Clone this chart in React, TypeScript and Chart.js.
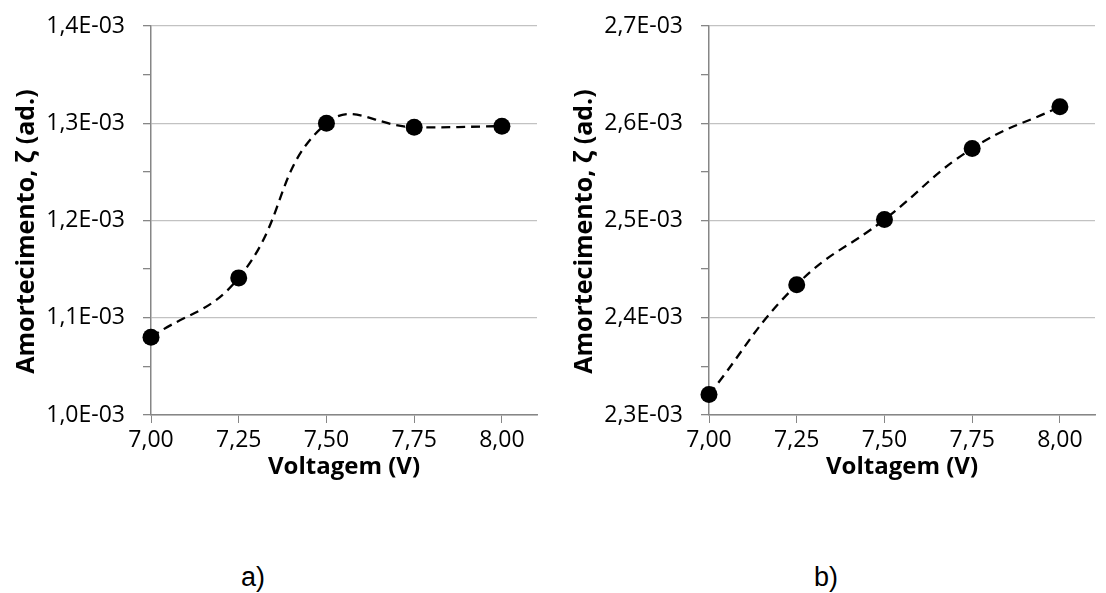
import React, { useEffect, useRef } from 'react';
import { Chart, registerables } from 'chart.js';

Chart.register(...registerables);

// ---- data ----
const voltages = [7.0, 7.25, 7.5, 7.75, 8.0];
const zetaA = [1.08e-3, 1.141e-3, 1.3e-3, 1.296e-3, 1.297e-3];
const zetaB = [2.321e-3, 2.434e-3, 2.501e-3, 2.574e-3, 2.617e-3];
const yRangeA = [1.0e-3, 1.4e-3];
const yRangeB = [2.3e-3, 2.7e-3];
const xRange = [7.0, 8.1];
const xStep = 0.25;
const yMinorStep = 0.05e-3;
const xTitle = 'Voltagem (V)';
const yTitle = 'Amortecimento, ζ (ad.)';
const panelLabels = ['a)', 'b)'];

const AXIS = '#868686';
const GRID = '#c2c2c2';
const FONT = 'Open Sans';

const isMajor = (v: number) => Math.round(v / yMinorStep) % 2 === 0;

// y-axis title drawn slightly below the plot centre, as in the original figure
const yTitlePlugin = {
  id: 'yTitlePlugin',
  afterDraw(chart: any) {
    const { ctx, chartArea } = chart;
    ctx.save();
    ctx.translate(27, (chartArea.top + chartArea.bottom) / 2 + 11);
    ctx.rotate(-Math.PI / 2);
    ctx.textAlign = 'center';
    ctx.textBaseline = 'middle';
    ctx.fillStyle = '#000';
    ctx.font = `bold 25px "${FONT}"`;
    ctx.fillText(yTitle, 0, 0);
    ctx.restore();
  },
};

function Panel({ ys, yRange }: { ys: number[]; yRange: number[] }) {
  const ref = useRef<HTMLCanvasElement>(null);
  useEffect(() => {
    const chart = new Chart(ref.current as HTMLCanvasElement, {
      type: 'line',
      data: {
        datasets: [
          {
            data: voltages.map((x, i) => ({ x, y: ys[i] })),
            borderColor: '#000',
            borderWidth: 2.3,
            borderDash: [9, 6],
            tension: 0.45,
            pointRadius: 8.5,
            pointHoverRadius: 8.5,
            pointBackgroundColor: '#000',
            pointBorderWidth: 0,
            fill: false,
            clip: false as any,
          },
        ],
      },
      options: {
        animation: false,
        responsive: false,
        maintainAspectRatio: false,
        events: [],
        layout: { padding: { left: 0, top: 26, right: 13, bottom: 0 } },
        plugins: { legend: { display: false }, tooltip: { enabled: false } },
        scales: {
          x: {
            type: 'linear',
            min: xRange[0],
            max: xRange[1],
            afterFit: (s: any) => {
              s.height = 85;
            },
            border: { color: AXIS, width: 1.5 },
            grid: { drawOnChartArea: false, drawTicks: true, tickLength: 8, tickColor: AXIS, color: AXIS },
            ticks: {
              stepSize: xStep,
              includeBounds: false,
              autoSkip: false,
              maxRotation: 0,
              padding: 4,
              color: '#000',
              font: { family: FONT, size: 23 },
              callback: (v: any) => Number(v).toFixed(2).replace('.', ','),
            },
            title: {
              display: true,
              text: xTitle,
              color: '#000',
              font: { family: FONT, size: 24, weight: 'bold' },
              padding: { top: 0, bottom: 18 },
            },
          },
          y: {
            type: 'linear',
            min: yRange[0],
            max: yRange[1],
            afterFit: (s: any) => {
              s.width = 151;
              s.paddingTop = 0;
              s.paddingBottom = 0;
            },
            border: { color: AXIS, width: 1.5 },
            grid: {
              color: (ctx: any) => (ctx.tick && isMajor(ctx.tick.value) ? GRID : 'rgba(0,0,0,0)'),
              tickColor: AXIS,
              tickLength: 8,
              lineWidth: 1.3,
            },
            ticks: {
              stepSize: yMinorStep,
              autoSkip: false,
              padding: 18,
              color: '#000',
              font: { family: FONT, size: 23 },
              callback: (v: any) =>
                isMajor(Number(v)) ? (Number(v) * 1000).toFixed(1).replace('.', ',') + 'E-03' : '',
            },
            title: { display: false },
          },
        },
      } as any,
      plugins: [yTitlePlugin],
    });
    return () => chart.destroy();
  }, []);
  return <canvas ref={ref} width={550} height={500} style={{ display: 'block', width: 550, height: 500 }} />;
}

export default function App() {
  const labelStyle: React.CSSProperties = {
    position: 'absolute',
    top: 561,
    width: 60,
    textAlign: 'center',
    fontFamily: 'Liberation Sans, Arial, sans-serif',
    fontSize: 27,
    lineHeight: '32px',
    color: '#000',
  };
  return (
    <div style={{ position: 'absolute', left: 0, top: 0, width: 1106, height: 593, background: '#fff', overflow: 'hidden' }}>
      <div style={{ position: 'absolute', left: 0, top: 0 }}>
        <Panel ys={zetaA} yRange={yRangeA} />
      </div>
      <div style={{ position: 'absolute', left: 558, top: 0 }}>
        <Panel ys={zetaB} yRange={yRangeB} />
      </div>
      <div style={{ ...labelStyle, left: 253 - 30 }}>{panelLabels[0]}</div>
      <div style={{ ...labelStyle, left: 826 - 30 }}>{panelLabels[1]}</div>
    </div>
  );
}
